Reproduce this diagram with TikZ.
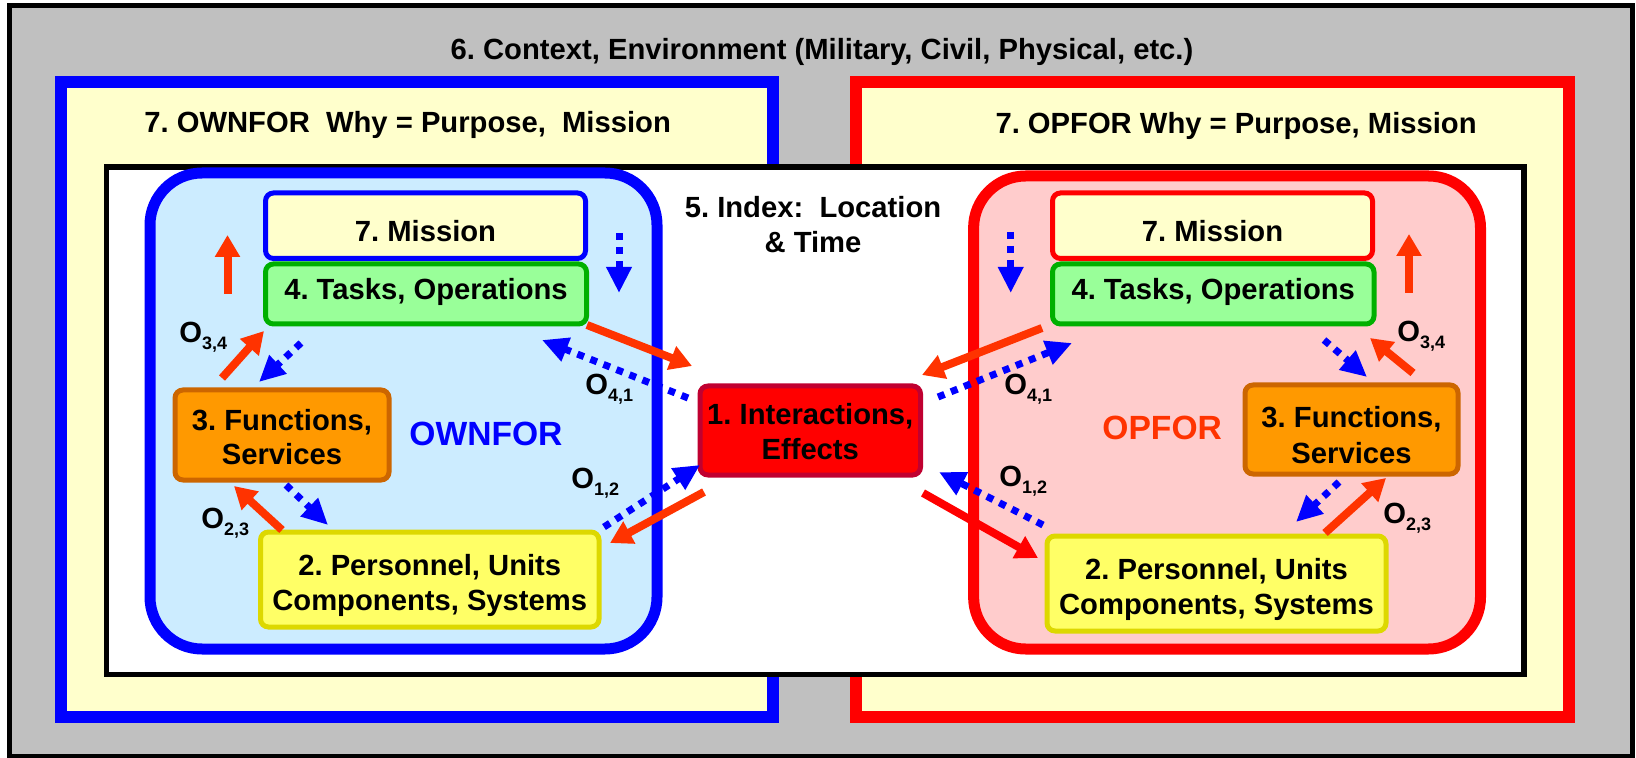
\documentclass[tikz,border=0pt]{standalone}
\usepackage{fontspec}
\setmainfont{Liberation Sans}
\usetikzlibrary{arrows.meta}
\definecolor{bggrey}{HTML}{C0C0C0}
\definecolor{frameyellow}{HTML}{FFFFCC}
\definecolor{panelblue}{HTML}{CCECFF}
\definecolor{panelpink}{HTML}{FFCCCC}
\definecolor{taskgreen}{HTML}{99FF99}
\definecolor{taskborder}{HTML}{00B000}
\definecolor{funcorange}{HTML}{FF9900}
\definecolor{funcborder}{HTML}{CC6600}
\definecolor{persyellow}{HTML}{FFFF66}
\definecolor{persborder}{HTML}{DDD800}
\definecolor{interborder}{HTML}{C00030}
\definecolor{arrowred}{HTML}{FF3300}
\definecolor{opfortext}{HTML}{FF3300}
\newcommand{\dn}[2]{\raisebox{-#1}[\height][\depth]{#2}}
\newcommand{\Osub}[1]{O\raisebox{-3.5pt}{\fontsize{9}{9}\selectfont #1}}
\newcommand{\twol}[2]{\begin{tabular}{@{}c@{}}#1\\#2\end{tabular}}
\begin{document}
\frenchspacing
\begin{tikzpicture}[x=0.5pt,y=-0.5pt,font=\fontsize{14.6}{17.5}\selectfont\bfseries\frenchspacing]
\tikzset{
  box/.style={rectangle, rounded corners=4pt, line width=2.5pt, inner sep=0pt},
  redarrow/.style={draw=arrowred, line width=4pt, -{Triangle[length=11pt,width=12pt]}},
  purered/.style={draw=red, line width=4pt, -{Triangle[length=11pt,width=12pt]}},
  bluedot/.style={draw=blue, line width=3.5pt, dash pattern=on 3.5pt off 3.5pt, -{Triangle[length=13pt,width=12pt]}},
  olabel/.style={anchor=base west, inner sep=0pt},
  frame/.style={line width=6pt, fill=frameyellow},
  panel/.style={line width=5.5pt, rounded corners=26pt}
}
\useasboundingbox (0,0) rectangle (1636,758);
\fill[white] (0,0) rectangle (1636,758);
% outer context
\draw[line width=2.5pt, fill=bggrey] (9.5,5.5) rectangle (1632.5,756);
\node[anchor=base, inner sep=0pt] (ctx) at (822,59.5) {6. Context, Environment (Military, Civil, Physical, etc.)};
% purpose frames
\draw[frame, draw=blue] (61,82) rectangle (773,717);
\draw[frame, draw=red] (856,82) rectangle (1568.6,717);
\node[anchor=base west, inner sep=0pt] (whyL) at (144,133) {7. OWNFOR\ \ Why = Purpose,\ \ Mission};
\node[anchor=base east, inner sep=0pt] (whyR) at (1477,134) {7. OPFOR Why = Purpose, Mission};
% index frame
\draw[line width=2.75pt, fill=white] (106.7,167) rectangle (1524,674.5);
\node[inner sep=0pt] (index) at (813,227.8) {\twol{5. Index:\ \ Location}{\& Time}};
% panels
\draw[panel, draw=blue, fill=panelblue] (150,173) rectangle (657,649);
\draw[panel, draw=red, fill=panelpink] (973.6,176) rectangle (1480.5,649);
\node[anchor=base west, inner sep=0pt, text=blue, font=\fontsize{16.8}{20}\selectfont\bfseries] (own) at (409,445) {OWNFOR};
\node[anchor=base west, inner sep=0pt, text=opfortext, font=\fontsize{16.8}{20}\selectfont\bfseries] (op) at (1102,440) {OPFOR};
% left boxes
\node[box, draw=blue, fill=frameyellow, minimum width=160pt, minimum height=32.75pt] (missionL) at (425.5,225.75) {\dn{2.7pt}{7. Mission}};
\node[box, draw=taskborder, fill=taskgreen, minimum width=160.5pt, minimum height=30pt] (tasksL) at (426,294) {\dn{-1.2pt}{4. Tasks, Operations}};
\node[box, draw=funcborder, fill=funcorange, minimum width=107pt, minimum height=45pt] (funcL) at (282,435) {\dn{2.75pt}{\twol{3. Functions,}{Services}}};
\node[box, draw=persborder, fill=persyellow, minimum width=169.25pt, minimum height=47.5pt] (persL) at (429.75,579.5) {\dn{3.1pt}{\twol{2. Personnel, Units}{Components, Systems}}};
% centre
\node[box, draw=interborder, fill=red, minimum width=110.25pt, minimum height=44.5pt] (inter) at (810.25,430.5) {\dn{2.5pt}{\twol{1. Interactions,}{Effects}}};
% right boxes
\node[box, draw=red, fill=frameyellow, minimum width=160pt, minimum height=32.75pt] (missionR) at (1212.5,225.75) {\dn{2.7pt}{7. Mission}};
\node[box, draw=taskborder, fill=taskgreen, minimum width=160.75pt, minimum height=30pt] (tasksR) at (1213.25,294) {\dn{-0.9pt}{4. Tasks, Operations}};
\node[box, draw=funcborder, fill=funcorange, minimum width=106.5pt, minimum height=44.5pt] (funcR) at (1351.5,429.5) {\dn{4.5pt}{\twol{3. Functions,}{Services}}};
\node[box, draw=persborder, fill=persyellow, minimum width=169.5pt, minimum height=47.5pt] (persR) at (1216.5,583.5) {\dn{3.1pt}{\twol{2. Personnel, Units}{Components, Systems}}};
% left arrows
\coordinate (lUpS) at (227.5,294); \coordinate (lUpE) at (227.5,235);
\coordinate (lDnS) at (619,233); \coordinate (lDnE) at (619,293);
\coordinate (l34S) at (222,378); \coordinate (l34E) at (264,331);
\coordinate (lTFS) at (301,343); \coordinate (lTFE) at (259,382);
\coordinate (lTIS) at (587,325); \coordinate (lTIE) at (692,366);
\coordinate (lITS) at (688,398); \coordinate (lITE) at (542,340);
\coordinate (lPIS) at (604,527); \coordinate (lPIE) at (700,465);
\coordinate (lIPS) at (704,492); \coordinate (lIPE) at (610,543);
\coordinate (lPFS) at (282,530); \coordinate (lPFE) at (234,486);
\coordinate (lFPS) at (286,485); \coordinate (lFPE) at (328,525);
\draw[redarrow] (lUpS) -- (lUpE);
\draw[bluedot] (lDnS) -- (lDnE);
\draw[redarrow] (l34S) -- (l34E);
\draw[bluedot] (lTFS) -- (lTFE);
\draw[redarrow] (lTIS) -- (lTIE);
\draw[bluedot] (lITS) -- (lITE);
\draw[bluedot] (lPIS) -- (lPIE);
\draw[redarrow] (lIPS) -- (lIPE);
\draw[redarrow] (lPFS) -- (lPFE);
\draw[bluedot] (lFPS) -- (lFPE);
% right arrows
\coordinate (rDnS) at (1010.7,232); \coordinate (rDnE) at (1010.7,293);
\coordinate (rUpS) at (1409,293); \coordinate (rUpE) at (1409,234);
\coordinate (rTIS) at (1042,328); \coordinate (rTIE) at (922,375);
\coordinate (rITS) at (938,397); \coordinate (rITE) at (1072,343);
\coordinate (rTFS) at (1324,340); \coordinate (rTFE) at (1367,377);
\coordinate (r34S) at (1413,373); \coordinate (r34E) at (1370,338);
\coordinate (rPIS) at (1043,525); \coordinate (rPIE) at (939,472);
\coordinate (rIPS) at (923,493); \coordinate (rIPE) at (1038,558);
\coordinate (rFPS) at (1339,482); \coordinate (rFPE) at (1296,522);
\coordinate (rPFS) at (1325,533); \coordinate (rPFE) at (1386,478);
\draw[bluedot] (rDnS) -- (rDnE);
\draw[redarrow] (rUpS) -- (rUpE);
\draw[redarrow] (rTIS) -- (rTIE);
\draw[bluedot] (rITS) -- (rITE);
\draw[bluedot] (rTFS) -- (rTFE);
\draw[redarrow] (r34S) -- (r34E);
\draw[bluedot] (rPIS) -- (rPIE);
\draw[purered] (rIPS) -- (rIPE);
\draw[bluedot] (rFPS) -- (rFPE);
\draw[redarrow] (rPFS) -- (rPFE);
% O labels
\node[olabel] (o34L) at (179,343) {\Osub{3,4}};
\node[olabel] (o41L) at (585,395) {\Osub{4,1}};
\node[olabel] (o12L) at (571,488) {\Osub{1,2}};
\node[olabel] (o23L) at (201,528) {\Osub{2,3}};
\node[olabel] (o41R) at (1004,395) {\Osub{4,1}};
\node[olabel] (o34R) at (1397,342) {\Osub{3,4}};
\node[olabel] (o12R) at (999,487) {\Osub{1,2}};
\node[olabel] (o23R) at (1383,523) {\Osub{2,3}};
\end{tikzpicture}
\end{document}
